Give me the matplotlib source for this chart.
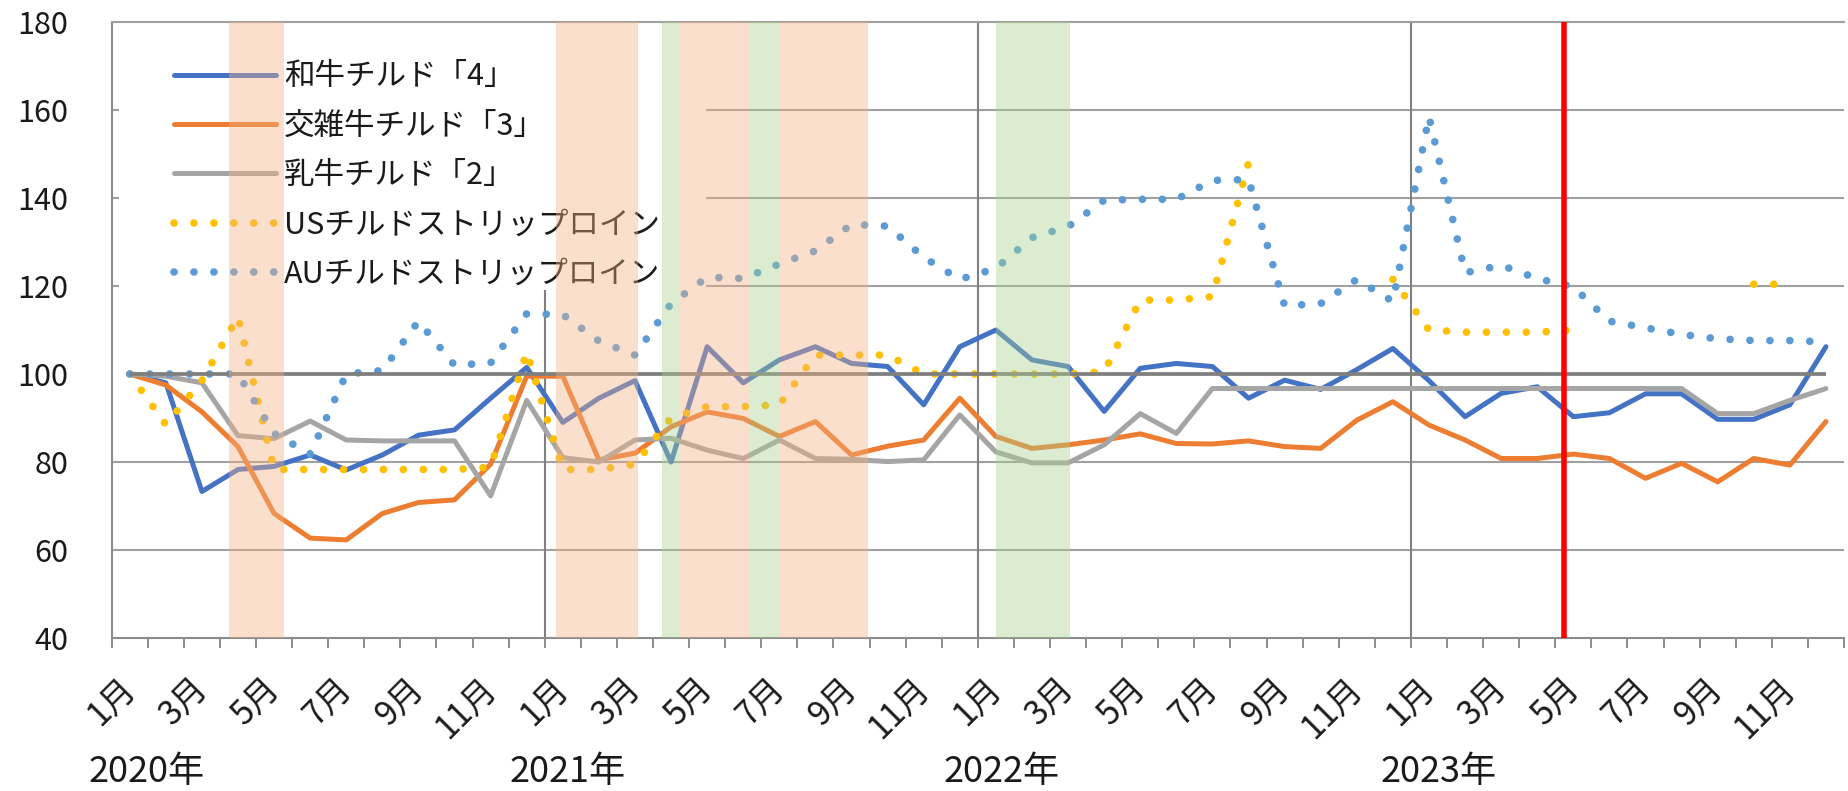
import numpy as np
import matplotlib.pyplot as plt
from matplotlib.patches import Rectangle

plt.rcParams['font.family'] = ['Noto Sans CJK JP', 'DejaVu Sans']

nan = np.nan

# 月次の価格指数（2020年1月=100）、2020年1月～2023年12月
years = ['2020年', '2021年', '2022年', '2023年']
months = [f'{m}月' for m in range(1, 13)] * 4
names = ['和牛チルド「4」', '交雑牛チルド「3」', '乳牛チルド「2」',
         'USチルドストリップロイン', 'AUチルドストリップロイン']

wagyu = [100, 98, 73.3, 78.3, 79, 81.6, 78.2, 81.6, 86.1, 87.3, 94.5, 101.5,
         89, 94.5, 98.5, 80, 106.2, 98, 103.2, 106.2, 102.4, 101.7, 93, 106.2,
         110, 103.2, 101.7, 91.5, 101.3, 102.4, 101.7, 94.5, 98.6, 96.5, 101, 105.8,
         98.5, 90.3, 95.6, 97.1, 90.3, 91.2, 95.5, 95.5, 89.7, 89.7, 93, 106.2]
kousai = [100, 97.5, 91.4, 83.5, 68.3, 62.7, 62.3, 68.3, 70.8, 71.4, 79.5, 99.5,
          99.5, 80.5, 82, 88, 91.4, 89.9, 85.8, 89.2, 81.6, 83.6, 85, 94.5,
          85.8, 83.1, 83.9, 85, 86.4, 84.2, 84.1, 84.8, 83.5, 83.1, 89.5, 93.7,
          88.4, 85, 80.8, 80.8, 81.8, 80.8, 76.3, 79.7, 75.5, 80.8, 79.3, 89.2]
nyugyu = [100, 99.5, 98, 86, 85.3, 89.3, 85, 84.8, 84.8, 84.8, 72.3, 94,
          81, 80, 85, 85.4, 82.7, 80.8, 85, 80.8, 80.6, 80.1, 80.5, 90.7,
          82.3, 79.8, 79.8, 83.9, 91, 86.5, 96.7, 96.7, 96.7, 96.7, 96.7, 96.7,
          96.7, 96.7, 96.7, 96.7, 96.7, 96.7, 96.7, 96.7, 91, 91, 94, 96.7]
us_loin = [100, 88.5, 98.5, 113, 78.3, 78.3, 78.3, 78.3, 78.3, 78.3, 78.8, 105,
           78.3, 78.3, 79.5, 90, 92.6, 92.6, 93, 104.3, 104.3, 104.3, 100, 100,
           100, 100, 100, 100.5, 116.8, 116.8, 117.6, 148, nan, nan, nan, 121.5,
           110, 109.5, 109.5, 109.5, 110, nan, nan, nan, nan, 120.4, 120.4, nan]
au_loin = [100, 100, 100, 100, 86.5, 81.8, 100, 100.8, 112, 102, 102.5, 113.7,
           113.5, 107.5, 104.3, 116, 122, 121.7, 125, 128, 134, 133.6, 126.5, 121.5,
           124, 131, 133.5, 139.5, 139.7, 139.7, 144, 144.2, 115.5, 116, 121.5, 116.5,
           158.5, 123, 124.7, 121.7, 119.8, 112, 110.5, 109, 108, 107.6, 107.6, 107.3]

# 緊急事態宣言・まん延防止等重点措置の期間（2020年1月初=0 の月単位）
emergency = [(3.26, 4.77), (12.3, 14.58), (15.75, 17.65), (18.5, 20.97)]
priority = [(15.25, 15.75), (17.65, 18.5), (24.5, 26.55)]
class5_shift = 40.23  # 2023年5月8日

x = np.arange(len(wagyu)) + 0.5
text_c = '#1A1A1A'

fig = plt.figure(figsize=(18.49, 7.91), dpi=100)
ax = fig.add_axes([0.0604, 0.1934, 0.9369, 0.7788])
ax.set_xlim(0, 48)
ax.set_ylim(40, 180)

for v in [60, 80, 120, 140, 160]:
    ax.axhline(v, color='#A0A0A0', lw=1.5, zorder=0.5)
for b in [12, 24, 36]:
    ax.axvline(b, color='#808080', lw=1.5, zorder=1)

# 凡例の白い下地
ax.add_patch(Rectangle((0.004, 0.565), 0.339, 0.435, transform=ax.transAxes,
                       facecolor='white', edgecolor='none', zorder=2))

solid_kw = dict(lw=3.6, solid_capstyle='round', solid_joinstyle='round', zorder=3)
dot_kw = dict(lw=5.5, linestyle=(0, (0.01, 2.6)), dash_capstyle='round', zorder=3)
ax.plot(x, wagyu, color='#4472C4', label=names[0], **solid_kw)
ax.plot(x, kousai, color='#ED7D31', label=names[1], **solid_kw)
ax.plot(x, nyugyu, color='#A5A5A5', label=names[2], **solid_kw)
ax.plot(x, us_loin, color='#FFC000', label=names[3], **dot_kw)
ax.plot(x, au_loin, color='#5B9BD5', label=names[4], **dot_kw)
ax.hlines(100, x[0], x[-1], color='#7F7F7F', lw=2.7, zorder=3.5)

leg = ax.legend(loc='upper left', bbox_to_anchor=(0.036, 0.936), frameon=False,
                fontsize=22, handlelength=3.35, handletextpad=0.25, labelspacing=0.6,
                borderpad=0, borderaxespad=0)
leg.set_zorder(3.8)
for t in leg.get_texts():
    t.set_color(text_c)

for a, b in emergency:
    ax.axvspan(a, b, color='#F4B183', alpha=0.4, lw=0, zorder=4)
for a, b in priority:
    ax.axvspan(a, b, color='#A9D18E', alpha=0.4, lw=0, zorder=4)
ax.axvline(class5_shift, color='#FF0000', lw=4, zorder=5)

ax.set_xticks(np.arange(49), minor=True)
ax.set_xticks(x[::2])
ax.set_xticklabels(months[::2], rotation=45, ha='right', va='center',
                   rotation_mode='anchor', fontsize=24, color=text_c)
ax.tick_params(axis='x', which='major', length=0, pad=33)
ax.tick_params(axis='x', which='minor', length=7, width=1.4, color='#8C8C8C',
               direction='out')
ax.set_yticks(range(40, 181, 20))
ax.tick_params(axis='y', length=0, pad=31, labelsize=22, labelcolor=text_c)

for side in ['left', 'bottom']:
    ax.spines[side].set_color('#8C8C8C')
    ax.spines[side].set_linewidth(1.5)
ax.spines['top'].set_color('#A0A0A0')
ax.spines['top'].set_linewidth(1.5)
ax.spines['right'].set_visible(False)

year_x = [0.98, 12.62, 24.67, 36.78]
for lbl, xp in zip(years, year_x):
    ax.text(xp, -0.2175, lbl, transform=ax.get_xaxis_transform(), ha='center',
            va='center', fontsize=26, color=text_c)

fig.savefig('out.png', dpi=100)
